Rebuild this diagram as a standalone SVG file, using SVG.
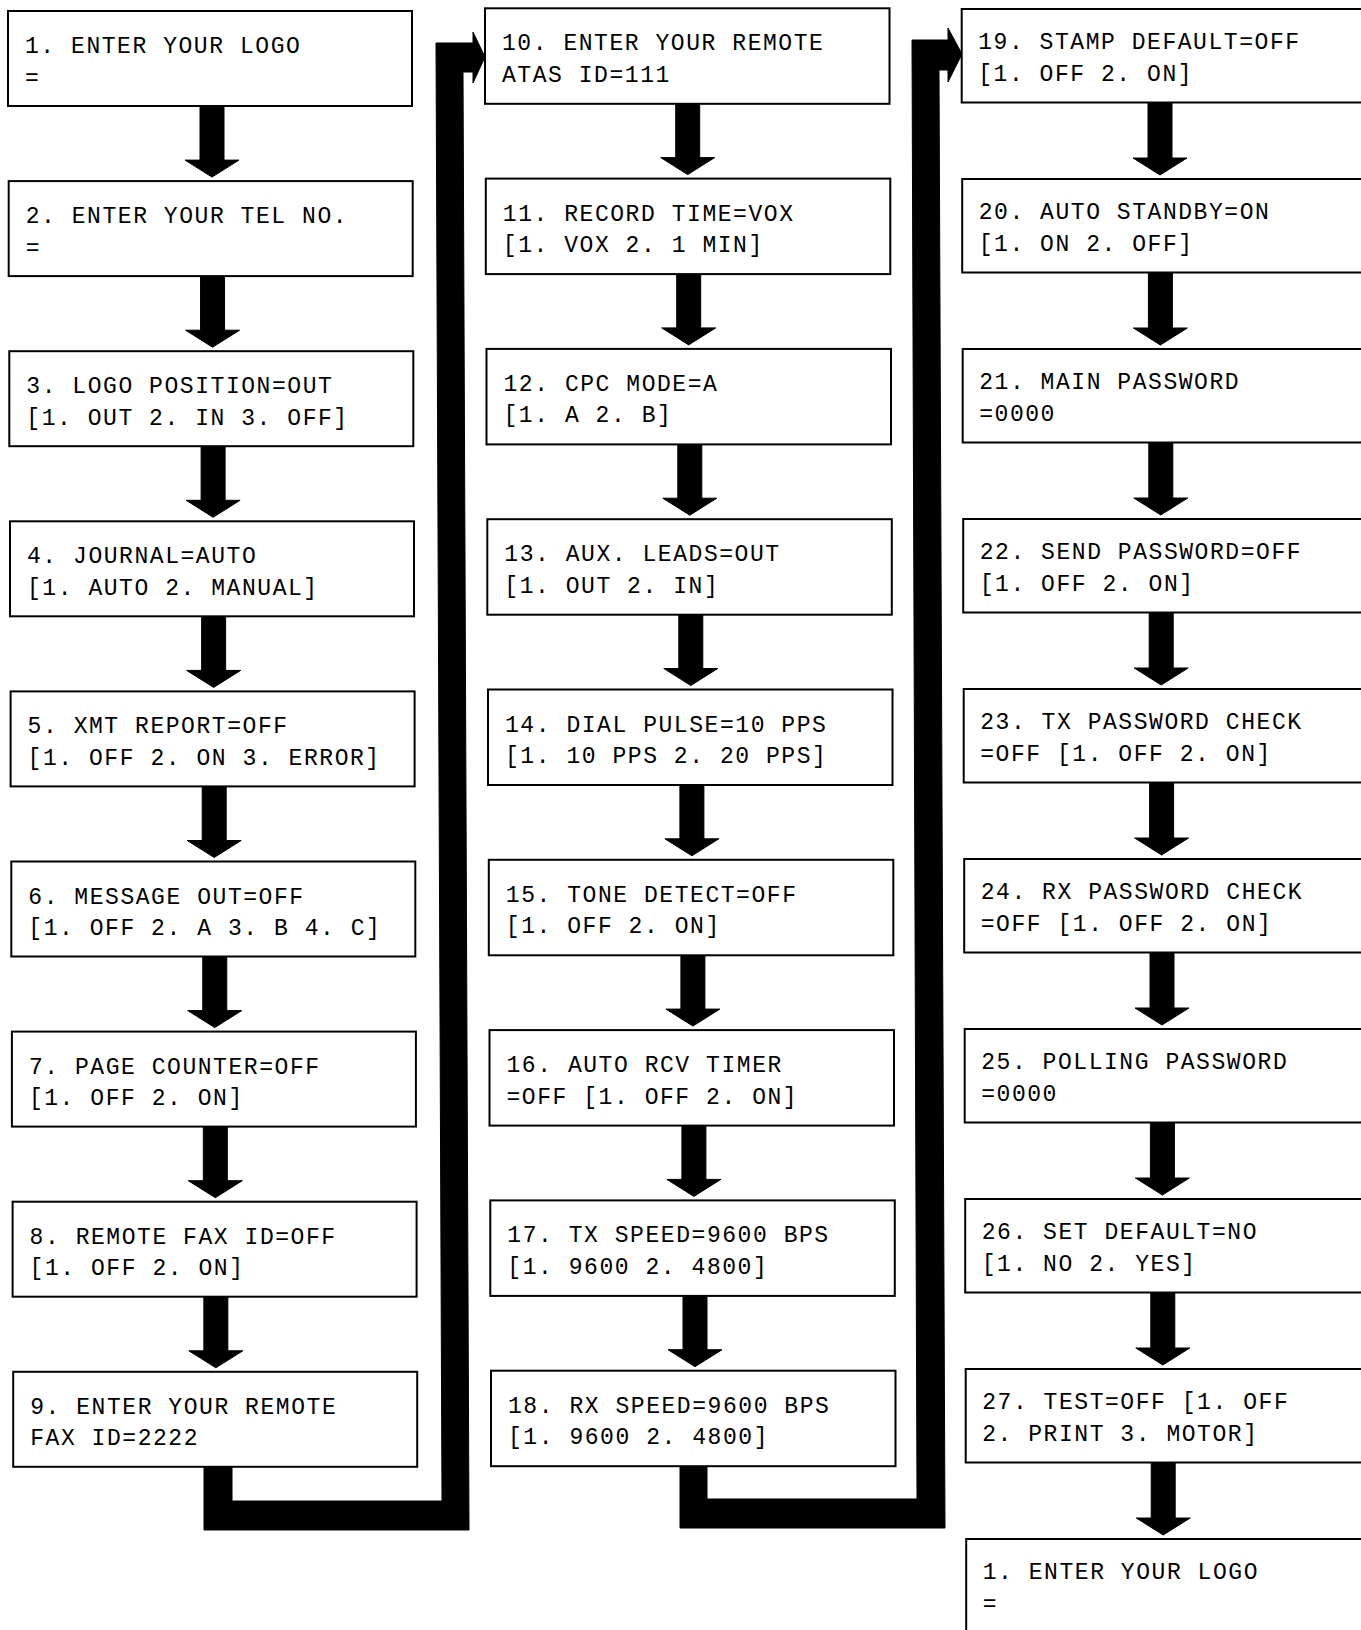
<svg xmlns="http://www.w3.org/2000/svg" width="1361" height="1630" viewBox="0 0 1361 1630">
<style>
.box{fill:#fff;stroke:#000;stroke-width:2}
text{font-family:"Liberation Mono","DejaVu Sans Mono",monospace;font-size:23px;letter-spacing:1.55px;fill:#000}
.con{fill:#000;stroke:#000;stroke-width:1;stroke-linejoin:round}
</style>
<rect width="1361" height="1630" fill="#fff"/>
<g id="connectors">
<path class="con" d="M200,106 V160.1 H185 L212,177.1 L239,160.1 H224 V106 Z"/>
<path class="con" d="M200.55,276.1 V330.2 H185.55 L212.55,347.2 L239.55,330.2 H224.55 V276.1 Z"/>
<path class="con" d="M201.1,446.2 V500.3 H186.1 L213.1,517.3 L240.1,500.3 H225.1 V446.2 Z"/>
<path class="con" d="M201.65,616.3 V670.4 H186.65 L213.65,687.4 L240.65,670.4 H225.65 V616.3 Z"/>
<path class="con" d="M202.2,786.4 V840.5 H187.2 L214.2,857.5 L241.2,840.5 H226.2 V786.4 Z"/>
<path class="con" d="M202.75,956.5 V1010.6 H187.75 L214.75,1027.6 L241.75,1010.6 H226.75 V956.5 Z"/>
<path class="con" d="M203.3,1126.6 V1180.7 H188.3 L215.3,1197.7 L242.3,1180.7 H227.3 V1126.6 Z"/>
<path class="con" d="M203.85,1296.7 V1350.8 H188.85 L215.85,1367.8 L242.85,1350.8 H227.85 V1296.7 Z"/>

<path class="con" d="M675.7,103.8 V157.6 H660.7 L687.7,174.6 L714.7,157.6 H699.7 V103.8 Z"/>
<path class="con" d="M676.7,274.1 V327.9 H661.7 L688.7,344.9 L715.7,327.9 H700.7 V274.1 Z"/>
<path class="con" d="M677.8,444.4 V498.2 H662.8 L689.8,515.2 L716.8,498.2 H701.8 V444.4 Z"/>
<path class="con" d="M678.8,614.7 V668.5 H663.8 L690.8,685.5 L717.8,668.5 H702.8 V614.7 Z"/>
<path class="con" d="M679.9,785 V838.8 H664.9 L691.9,855.8 L718.9,838.8 H703.9 V785 Z"/>
<path class="con" d="M680.9,955.3 V1009.1 H665.9 L692.9,1026.1 L719.9,1009.1 H704.9 V955.3 Z"/>
<path class="con" d="M681.9,1125.6 V1179.4 H666.9 L693.9,1196.4 L720.9,1179.4 H705.9 V1125.6 Z"/>
<path class="con" d="M683,1295.9 V1349.7 H668 L695,1366.7 L722,1349.7 H707 V1295.9 Z"/>

<path class="con" d="M1148,102.5 V158 H1133 L1160,175 L1187,158 H1172 V102.5 Z"/>
<path class="con" d="M1148.4,272.5 V328 H1133.4 L1160.4,345 L1187.4,328 H1172.4 V272.5 Z"/>
<path class="con" d="M1148.8,442.5 V498 H1133.8 L1160.8,515 L1187.8,498 H1172.8 V442.5 Z"/>
<path class="con" d="M1149.2,612.5 V668 H1134.2 L1161.2,685 L1188.2,668 H1173.2 V612.5 Z"/>
<path class="con" d="M1149.6,782.5 V838 H1134.6 L1161.6,855 L1188.6,838 H1173.6 V782.5 Z"/>
<path class="con" d="M1150,952.5 V1008 H1135 L1162,1025 L1189,1008 H1174 V952.5 Z"/>
<path class="con" d="M1150.4,1122.5 V1178 H1135.4 L1162.4,1195 L1189.4,1178 H1174.4 V1122.5 Z"/>
<path class="con" d="M1150.8,1292.5 V1348 H1135.8 L1162.8,1365 L1189.8,1348 H1174.8 V1292.5 Z"/>
<path class="con" d="M1151.2,1462.5 V1518 H1136.2 L1163.2,1535 L1190.2,1518 H1175.2 V1462.5 Z"/>

<polygon class="con" points="204,1466 232,1466 232,1501 442,1501 436,43 473,43 473,32 485,57 473,83 473,72 463,72 469,1530 204,1530"/>
<polygon class="con" points="680,1466 707,1466 707,1499 917,1499 912,40 948,40 948,28 962,54 948,82 948,70 939,70 945,1528 680,1528"/>
</g>

<g id="n1"><rect class="box" x="8" y="11" width="404" height="95"/><text x="25" y="53">1. ENTER YOUR LOGO</text><text x="25" y="84.5">=</text></g>
<g id="n2"><rect class="box" x="8.7" y="181.1" width="404" height="95"/><text x="25.7" y="223.1">2. ENTER YOUR TEL NO.</text><text x="25.7" y="254.6">=</text></g>
<g id="n3"><rect class="box" x="9.3" y="351.2" width="404" height="95"/><text x="26.3" y="393.2">3. LOGO POSITION=OUT</text><text x="26.3" y="424.7">[1. OUT 2. IN 3. OFF]</text></g>
<g id="n4"><rect class="box" x="10" y="521.3" width="404" height="95"/><text x="27" y="563.3">4. JOURNAL=AUTO</text><text x="27" y="594.8">[1. AUTO 2. MANUAL]</text></g>
<g id="n5"><rect class="box" x="10.6" y="691.4" width="404" height="95"/><text x="27.6" y="733.4">5. XMT REPORT=OFF</text><text x="27.6" y="764.9">[1. OFF 2. ON 3. ERROR]</text></g>
<g id="n6"><rect class="box" x="11.3" y="861.5" width="404" height="95"/><text x="28.3" y="903.5">6. MESSAGE OUT=OFF</text><text x="28.3" y="935">[1. OFF 2. A 3. B 4. C]</text></g>
<g id="n7"><rect class="box" x="11.9" y="1031.6" width="404" height="95"/><text x="28.9" y="1073.6">7. PAGE COUNTER=OFF</text><text x="28.9" y="1105.1">[1. OFF 2. ON]</text></g>
<g id="n8"><rect class="box" x="12.6" y="1201.7" width="404" height="95"/><text x="29.6" y="1243.7">8. REMOTE FAX ID=OFF</text><text x="29.6" y="1275.2">[1. OFF 2. ON]</text></g>
<g id="n9"><rect class="box" x="13.2" y="1371.8" width="404" height="95"/><text x="30.2" y="1413.8">9. ENTER YOUR REMOTE</text><text x="30.2" y="1445.3">FAX ID=2222</text></g>

<g id="n10"><rect class="box" x="485" y="8.3" width="404.5" height="95.5"/><text x="502" y="50.3">10. ENTER YOUR REMOTE</text><text x="502" y="81.8">ATAS ID=111</text></g>
<g id="n11"><rect class="box" x="485.8" y="178.6" width="404.5" height="95.5"/><text x="502.8" y="220.6">11. RECORD TIME=VOX</text><text x="502.8" y="252.1">[1. VOX 2. 1 MIN]</text></g>
<g id="n12"><rect class="box" x="486.5" y="348.9" width="404.5" height="95.5"/><text x="503.5" y="390.9">12. CPC MODE=A</text><text x="503.5" y="422.4">[1. A 2. B]</text></g>
<g id="n13"><rect class="box" x="487.3" y="519.2" width="404.5" height="95.5"/><text x="504.3" y="561.2">13. AUX. LEADS=OUT</text><text x="504.3" y="592.7">[1. OUT 2. IN]</text></g>
<g id="n14"><rect class="box" x="488" y="689.5" width="404.5" height="95.5"/><text x="505" y="731.5">14. DIAL PULSE=10 PPS</text><text x="505" y="763">[1. 10 PPS 2. 20 PPS]</text></g>
<g id="n15"><rect class="box" x="488.8" y="859.8" width="404.5" height="95.5"/><text x="505.8" y="901.8">15. TONE DETECT=OFF</text><text x="505.8" y="933.3">[1. OFF 2. ON]</text></g>
<g id="n16"><rect class="box" x="489.5" y="1030.1" width="404.5" height="95.5"/><text x="506.5" y="1072.1">16. AUTO RCV TIMER</text><text x="506.5" y="1103.6">=OFF [1. OFF 2. ON]</text></g>
<g id="n17"><rect class="box" x="490.3" y="1200.4" width="404.5" height="95.5"/><text x="507.3" y="1242.4">17. TX SPEED=9600 BPS</text><text x="507.3" y="1273.9">[1. 9600 2. 4800]</text></g>
<g id="n18"><rect class="box" x="491" y="1370.7" width="404.5" height="95.5"/><text x="508" y="1412.7">18. RX SPEED=9600 BPS</text><text x="508" y="1444.2">[1. 9600 2. 4800]</text></g>

<g id="n19"><rect class="box" x="961.7" y="9" width="440" height="93.5"/><text x="978.2" y="49">19. STAMP DEFAULT=OFF</text><text x="978.2" y="81">[1. OFF 2. ON]</text></g>
<g id="n20"><rect class="box" x="962.2" y="179" width="440" height="93.5"/><text x="978.7" y="219">20. AUTO STANDBY=ON</text><text x="978.7" y="251">[1. ON 2. OFF]</text></g>
<g id="n21"><rect class="box" x="962.7" y="349" width="440" height="93.5"/><text x="979.2" y="389">21. MAIN PASSWORD</text><text x="979.2" y="421">=0000</text></g>
<g id="n22"><rect class="box" x="963.2" y="519" width="440" height="93.5"/><text x="979.7" y="559">22. SEND PASSWORD=OFF</text><text x="979.7" y="591">[1. OFF 2. ON]</text></g>
<g id="n23"><rect class="box" x="963.7" y="689" width="440" height="93.5"/><text x="980.2" y="729">23. TX PASSWORD CHECK</text><text x="980.2" y="761">=OFF [1. OFF 2. ON]</text></g>
<g id="n24"><rect class="box" x="964.2" y="859" width="440" height="93.5"/><text x="980.7" y="899">24. RX PASSWORD CHECK</text><text x="980.7" y="931">=OFF [1. OFF 2. ON]</text></g>
<g id="n25"><rect class="box" x="964.7" y="1029" width="440" height="93.5"/><text x="981.2" y="1069">25. POLLING PASSWORD</text><text x="981.2" y="1101">=0000</text></g>
<g id="n26"><rect class="box" x="965.2" y="1199" width="440" height="93.5"/><text x="981.7" y="1239">26. SET DEFAULT=NO</text><text x="981.7" y="1271">[1. NO 2. YES]</text></g>
<g id="n27"><rect class="box" x="965.7" y="1369" width="440" height="93.5"/><text x="982.2" y="1409">27. TEST=OFF [1. OFF</text><text x="982.2" y="1441">2. PRINT 3. MOTOR]</text></g>
<g id="n1b"><rect class="box" x="966.2" y="1539" width="440" height="120"/><text x="982.7" y="1579">1. ENTER YOUR LOGO</text><text x="982.7" y="1611">=</text></g>
</svg>
